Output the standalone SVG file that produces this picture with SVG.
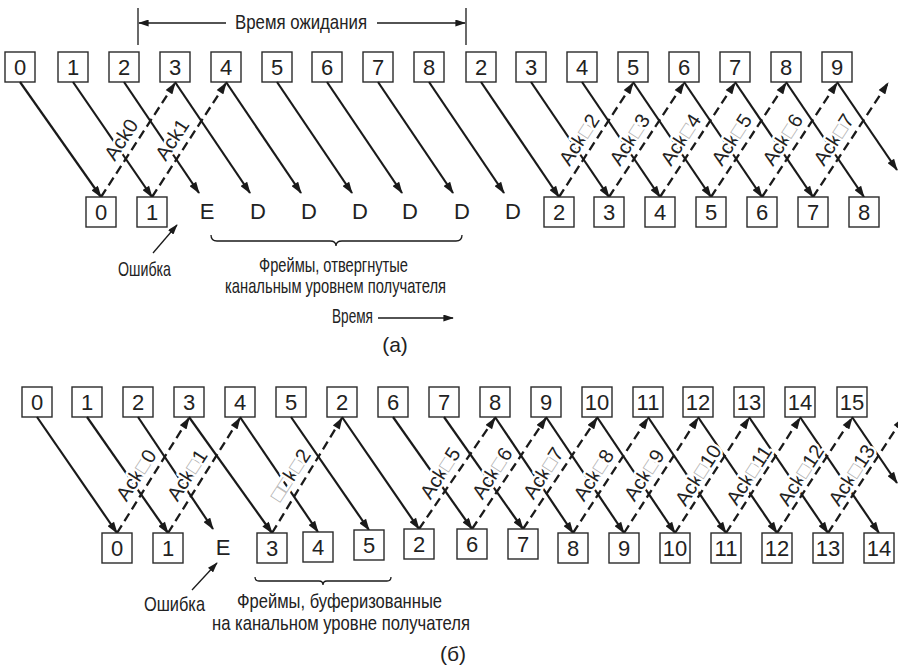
<svg xmlns="http://www.w3.org/2000/svg" width="898" height="667" viewBox="0 0 898 667">
<style>
.bx{fill:#fff;stroke:#2a2a2a;stroke-width:1.4}
.num{font-family:"Liberation Sans",Arial,sans-serif;font-size:22px;fill:#222;text-anchor:middle}
.let{font-family:"Liberation Sans",Arial,sans-serif;font-size:22px;fill:#222;text-anchor:middle}
.ack{font-family:"Liberation Sans",Arial,sans-serif;font-size:20px;fill:#222;text-anchor:middle;stroke:#fff;stroke-width:5;paint-order:stroke;stroke-linejoin:round}
.tf{fill:#b0b0b0}
.ru{font-family:"Liberation Sans Narrow","Liberation Sans",sans-serif;font-size:21px;fill:#222}
.d{stroke:#1a1a1a;stroke-width:2.2;fill:none;marker-end:url(#ah)}
.a{stroke:#1a1a1a;stroke-width:2.3;fill:none;stroke-dasharray:9,5;marker-end:url(#ah)}
.ln{stroke:#1a1a1a;stroke-width:1.3;fill:none}
.lnA{stroke:#1a1a1a;stroke-width:1.3;fill:none;marker-end:url(#ah2)}
</style>
<defs>
<marker id="ah" viewBox="0 0 12 8" refX="11" refY="4" markerWidth="13" markerHeight="8" markerUnits="userSpaceOnUse" orient="auto"><path d="M0,0 L12,4 L0,8 z" fill="#1a1a1a"/></marker>
<marker id="ah2" viewBox="0 0 12 8" refX="11" refY="4" markerWidth="11" markerHeight="7" markerUnits="userSpaceOnUse" orient="auto"><path d="M0,0 L12,4 L0,8 z" fill="#1a1a1a"/></marker>
</defs>

<!-- ===== (a) ===== -->
<g id="a-timeout">
<line class="ln" x1="138" y1="8" x2="138" y2="45"/>
<line class="ln" x1="466" y1="8" x2="466" y2="45"/>
<line class="lnA" x1="226" y1="23" x2="139" y2="23"/>
<line class="lnA" x1="377" y1="23" x2="465" y2="23"/>
<text class="ru" x="235" y="29" textLength="132" lengthAdjust="spacingAndGlyphs">Время ожидания</text>
</g>

<g id="a-senders">
<g id="a-s0"><rect class="bx" x="5" y="52" width="30" height="30"/><text class="num" x="20" y="75">0</text></g>
<g id="a-s1"><rect class="bx" x="58" y="52" width="30" height="30"/><text class="num" x="73" y="75">1</text></g>
<g id="a-s2"><rect class="bx" x="109" y="52" width="30" height="30"/><text class="num" x="124" y="75">2</text></g>
<g id="a-s3"><rect class="bx" x="160" y="52" width="30" height="30"/><text class="num" x="175" y="75">3</text></g>
<g id="a-s4"><rect class="bx" x="211" y="52" width="30" height="30"/><text class="num" x="226" y="75">4</text></g>
<g id="a-s5"><rect class="bx" x="262" y="52" width="30" height="30"/><text class="num" x="277" y="75">5</text></g>
<g id="a-s6"><rect class="bx" x="312" y="52" width="30" height="30"/><text class="num" x="327" y="75">6</text></g>
<g id="a-s7"><rect class="bx" x="363" y="52" width="30" height="30"/><text class="num" x="378" y="75">7</text></g>
<g id="a-s8"><rect class="bx" x="414" y="52" width="30" height="30"/><text class="num" x="429" y="75">8</text></g>
<g id="a-s9"><rect class="bx" x="466" y="52" width="30" height="30"/><text class="num" x="481" y="75">2</text></g>
<g id="a-s10"><rect class="bx" x="516" y="52" width="30" height="30"/><text class="num" x="531" y="75">3</text></g>
<g id="a-s11"><rect class="bx" x="567" y="52" width="30" height="30"/><text class="num" x="582" y="75">4</text></g>
<g id="a-s12"><rect class="bx" x="618" y="52" width="30" height="30"/><text class="num" x="633" y="75">5</text></g>
<g id="a-s13"><rect class="bx" x="669" y="52" width="30" height="30"/><text class="num" x="684" y="75">6</text></g>
<g id="a-s14"><rect class="bx" x="720" y="52" width="30" height="30"/><text class="num" x="735" y="75">7</text></g>
<g id="a-s15"><rect class="bx" x="771" y="52" width="30" height="30"/><text class="num" x="786" y="75">8</text></g>
<g id="a-s16"><rect class="bx" x="822" y="52" width="30" height="30"/><text class="num" x="837" y="75">9</text></g>
</g>

<g id="a-connectors">
<line class="d" x1="20" y1="82" x2="101" y2="197"/>
<line class="d" x1="73" y1="82" x2="152" y2="197"/>
<line class="d" x1="124" y1="82" x2="199" y2="193"/>
<line class="d" x1="175" y1="82" x2="250" y2="193"/>
<line class="d" x1="226" y1="82" x2="301" y2="193"/>
<line class="d" x1="277" y1="82" x2="352" y2="193"/>
<line class="d" x1="327" y1="82" x2="402" y2="193"/>
<line class="d" x1="378" y1="82" x2="453" y2="193"/>
<line class="d" x1="429" y1="82" x2="504" y2="193"/>
<line class="d" x1="481" y1="82" x2="559" y2="197"/>
<line class="d" x1="531" y1="82" x2="609" y2="197"/>
<line class="d" x1="582" y1="82" x2="660" y2="197"/>
<line class="d" x1="633" y1="82" x2="711" y2="197"/>
<line class="d" x1="684" y1="82" x2="762" y2="197"/>
<line class="d" x1="735" y1="82" x2="813" y2="197"/>
<line class="d" x1="786" y1="82" x2="864" y2="197"/>
<line class="d" x1="837" y1="82" x2="897" y2="170"/>
<line class="a" x1="101" y1="197" x2="175" y2="83"/>
<line class="a" x1="152" y1="197" x2="226" y2="83"/>
<line class="a" x1="559" y1="197" x2="633" y2="83"/>
<line class="a" x1="609" y1="197" x2="684" y2="83"/>
<line class="a" x1="660" y1="197" x2="735" y2="83"/>
<line class="a" x1="711" y1="197" x2="786" y2="83"/>
<line class="a" x1="762" y1="197" x2="837" y2="83"/>
<line class="a" x1="813" y1="197" x2="888" y2="83"/>
<line class="lnA" x1="153" y1="253" x2="177" y2="225"/>
<line class="lnA" x1="378" y1="318" x2="453" y2="318"/>
</g>

<g id="a-acklabels">
<text class="ack" transform="translate(121,139.5) rotate(-57)" y="7">Ack0</text>
<text class="ack" transform="translate(172,139.5) rotate(-57)" y="7">Ack1</text>
<text class="ack" transform="translate(579,139.5) rotate(-57)" y="7">Ack<tspan class="tf">□</tspan>2</text>
<text class="ack" transform="translate(629.5,139.5) rotate(-57)" y="7">Ack<tspan class="tf">□</tspan>3</text>
<text class="ack" transform="translate(680.5,139.5) rotate(-57)" y="7">Ack<tspan class="tf">□</tspan>4</text>
<text class="ack" transform="translate(731.5,139.5) rotate(-57)" y="7">Ack<tspan class="tf">□</tspan>5</text>
<text class="ack" transform="translate(782.5,139.5) rotate(-57)" y="7">Ack<tspan class="tf">□</tspan>6</text>
<text class="ack" transform="translate(833.5,139.5) rotate(-57)" y="7">Ack<tspan class="tf">□</tspan>7</text>
</g>

<g id="a-receivers">
<g id="a-r0"><rect class="bx" x="86" y="197" width="30" height="30"/><text class="num" x="101" y="220">0</text></g>
<g id="a-r1"><rect class="bx" x="137" y="197" width="30" height="30"/><text class="num" x="152" y="220">1</text></g>
<g id="a-r2"><text class="let" x="207" y="219">E</text></g>
<g id="a-r3"><text class="let" x="258" y="219">D</text></g>
<g id="a-r4"><text class="let" x="309" y="219">D</text></g>
<g id="a-r5"><text class="let" x="360" y="219">D</text></g>
<g id="a-r6"><text class="let" x="410" y="219">D</text></g>
<g id="a-r7"><text class="let" x="462" y="219">D</text></g>
<g id="a-r8"><text class="let" x="513" y="219">D</text></g>
<g id="a-r9"><rect class="bx" x="544" y="197" width="30" height="30"/><text class="num" x="559" y="220">2</text></g>
<g id="a-r10"><rect class="bx" x="594" y="197" width="30" height="30"/><text class="num" x="609" y="220">3</text></g>
<g id="a-r11"><rect class="bx" x="645" y="197" width="30" height="30"/><text class="num" x="660" y="220">4</text></g>
<g id="a-r12"><rect class="bx" x="696" y="197" width="30" height="30"/><text class="num" x="711" y="220">5</text></g>
<g id="a-r13"><rect class="bx" x="747" y="197" width="30" height="30"/><text class="num" x="762" y="220">6</text></g>
<g id="a-r14"><rect class="bx" x="798" y="197" width="30" height="30"/><text class="num" x="813" y="220">7</text></g>
<g id="a-r15"><rect class="bx" x="849" y="197" width="30" height="30"/><text class="num" x="864" y="220">8</text></g>
</g>

<g id="a-notes">
<text class="ru" x="118" y="276" textLength="53" lengthAdjust="spacingAndGlyphs">Ошибка</text>
<path class="ln" d="M211,235 Q211,241 217,241 L330,241 Q336,241 336,246 Q336,241 342,241 L456,241 Q462,241 462,235"/>
<text class="ru" x="259" y="272" textLength="149" lengthAdjust="spacingAndGlyphs">Фреймы, отвергнутые</text>
<text class="ru" x="225" y="293" textLength="221" lengthAdjust="spacingAndGlyphs">канальным уровнем получателя</text>
<text class="ru" x="332" y="323" textLength="41" lengthAdjust="spacingAndGlyphs">Время</text>
<text class="ru" x="395" y="352" text-anchor="middle">(а)</text>
</g>

<!-- ===== (b) ===== -->
<g id="b-senders">
<g id="b-s0"><rect class="bx" x="22" y="387" width="30" height="30"/><text class="num" x="37" y="410">0</text></g>
<g id="b-s1"><rect class="bx" x="72" y="387" width="30" height="30"/><text class="num" x="87" y="410">1</text></g>
<g id="b-s2"><rect class="bx" x="123" y="387" width="30" height="30"/><text class="num" x="138" y="410">2</text></g>
<g id="b-s3"><rect class="bx" x="174" y="387" width="30" height="30"/><text class="num" x="189" y="410">3</text></g>
<g id="b-s4"><rect class="bx" x="225" y="387" width="30" height="30"/><text class="num" x="240" y="410">4</text></g>
<g id="b-s5"><rect class="bx" x="276" y="387" width="30" height="30"/><text class="num" x="291" y="410">5</text></g>
<g id="b-s6"><rect class="bx" x="327" y="387" width="30" height="30"/><text class="num" x="342" y="410">2</text></g>
<g id="b-s7"><rect class="bx" x="378" y="387" width="30" height="30"/><text class="num" x="393" y="410">6</text></g>
<g id="b-s8"><rect class="bx" x="429" y="387" width="30" height="30"/><text class="num" x="444" y="410">7</text></g>
<g id="b-s9"><rect class="bx" x="480" y="387" width="30" height="30"/><text class="num" x="495" y="410">8</text></g>
<g id="b-s10"><rect class="bx" x="531" y="387" width="30" height="30"/><text class="num" x="546" y="410">9</text></g>
<g id="b-s11"><rect class="bx" x="582" y="387" width="30" height="30"/><text class="num" x="597" y="410">10</text></g>
<g id="b-s12"><rect class="bx" x="633" y="387" width="30" height="30"/><text class="num" x="648" y="410">11</text></g>
<g id="b-s13"><rect class="bx" x="683" y="387" width="30" height="30"/><text class="num" x="698" y="410">12</text></g>
<g id="b-s14"><rect class="bx" x="734" y="387" width="30" height="30"/><text class="num" x="749" y="410">13</text></g>
<g id="b-s15"><rect class="bx" x="785" y="387" width="30" height="30"/><text class="num" x="800" y="410">14</text></g>
<g id="b-s16"><rect class="bx" x="837" y="387" width="30" height="30"/><text class="num" x="852" y="410">15</text></g>
</g>

<g id="b-connectors">
<line class="d" x1="37" y1="417" x2="117" y2="533"/>
<line class="d" x1="87" y1="417" x2="168" y2="533"/>
<line class="d" x1="138" y1="417" x2="213" y2="529"/>
<line class="d" x1="189" y1="417" x2="272" y2="533"/>
<line class="d" x1="240" y1="417" x2="318" y2="532"/>
<line class="d" x1="291" y1="417" x2="369" y2="530"/>
<line class="d" x1="342" y1="417" x2="419" y2="529"/>
<line class="d" x1="393" y1="417" x2="472" y2="529"/>
<line class="d" x1="444" y1="417" x2="523" y2="529"/>
<line class="d" x1="495" y1="417" x2="573" y2="533"/>
<line class="d" x1="546" y1="417" x2="624" y2="533"/>
<line class="d" x1="597" y1="417" x2="675" y2="533"/>
<line class="d" x1="648" y1="417" x2="726" y2="533"/>
<line class="d" x1="698" y1="417" x2="777" y2="533"/>
<line class="d" x1="749" y1="417" x2="828" y2="533"/>
<line class="d" x1="800" y1="417" x2="879" y2="533"/>
<line class="d" x1="852" y1="417" x2="897" y2="483"/>
<line class="a" x1="117" y1="533" x2="189" y2="418"/>
<line class="a" x1="168" y1="533" x2="240" y2="418"/>
<line class="a" x1="272" y1="533" x2="342" y2="418"/>
<line class="a" x1="419" y1="529" x2="495" y2="418"/>
<line class="a" x1="472" y1="529" x2="546" y2="418"/>
<line class="a" x1="523" y1="529" x2="597" y2="418"/>
<line class="a" x1="573" y1="533" x2="648" y2="418"/>
<line class="a" x1="624" y1="533" x2="698" y2="418"/>
<line class="a" x1="675" y1="533" x2="749" y2="418"/>
<line class="a" x1="726" y1="533" x2="800" y2="418"/>
<line class="a" x1="777" y1="533" x2="852" y2="418"/>
<line class="a" x1="828" y1="533" x2="903" y2="418"/>
<line class="lnA" x1="192" y1="590" x2="217" y2="563"/>
</g>

<g id="b-acklabels">
<text class="ack" transform="translate(136,475) rotate(-57)" y="7">Ack<tspan class="tf">□</tspan>0</text>
<text class="ack" transform="translate(187,475) rotate(-57)" y="7">Ack<tspan class="tf">□</tspan>1</text>
<text class="ack" transform="translate(290,475) rotate(-57)" y="7"><tspan class="tf">□□</tspan>k<tspan class="tf">□</tspan>2</text>
<text class="ack" transform="translate(440,473) rotate(-57)" y="7">Ack<tspan class="tf">□</tspan>5</text>
<text class="ack" transform="translate(492,473) rotate(-57)" y="7">Ack<tspan class="tf">□</tspan>6</text>
<text class="ack" transform="translate(543,473) rotate(-57)" y="7">Ack<tspan class="tf">□</tspan>7</text>
<text class="ack" transform="translate(593.5,475) rotate(-57)" y="7">Ack<tspan class="tf">□</tspan>8</text>
<text class="ack" transform="translate(644,475) rotate(-57)" y="7">Ack<tspan class="tf">□</tspan>9</text>
<text class="ack" transform="translate(698,475) rotate(-57)" y="7">Ack<tspan class="tf">□</tspan>10</text>
<text class="ack" transform="translate(749,475) rotate(-57)" y="7">Ack<tspan class="tf">□</tspan>11</text>
<text class="ack" transform="translate(800.5,475) rotate(-57)" y="7">Ack<tspan class="tf">□</tspan>12</text>
<text class="ack" transform="translate(851.5,475) rotate(-57)" y="7">Ack<tspan class="tf">□</tspan>13</text>
</g>

<g id="b-receivers">
<g id="b-r0"><rect class="bx" x="102" y="533" width="30" height="30"/><text class="num" x="117" y="556">0</text></g>
<g id="b-r1"><rect class="bx" x="153" y="533" width="30" height="30"/><text class="num" x="168" y="556">1</text></g>
<g id="b-r2"><text class="let" x="223" y="555">E</text></g>
<g id="b-r3"><rect class="bx" x="257" y="533" width="30" height="30"/><text class="num" x="272" y="556">3</text></g>
<g id="b-r4"><rect class="bx" x="303" y="532" width="30" height="30"/><text class="num" x="318" y="555">4</text></g>
<g id="b-r5"><rect class="bx" x="354" y="530" width="30" height="30"/><text class="num" x="369" y="553">5</text></g>
<g id="b-r6"><rect class="bx" x="404" y="529" width="30" height="30"/><text class="num" x="419" y="552">2</text></g>
<g id="b-r7"><rect class="bx" x="457" y="529" width="30" height="30"/><text class="num" x="472" y="552">6</text></g>
<g id="b-r8"><rect class="bx" x="508" y="529" width="30" height="30"/><text class="num" x="523" y="552">7</text></g>
<g id="b-r9"><rect class="bx" x="558" y="533" width="30" height="30"/><text class="num" x="573" y="556">8</text></g>
<g id="b-r10"><rect class="bx" x="609" y="533" width="30" height="30"/><text class="num" x="624" y="556">9</text></g>
<g id="b-r11"><rect class="bx" x="660" y="533" width="30" height="30"/><text class="num" x="675" y="556">10</text></g>
<g id="b-r12"><rect class="bx" x="711" y="533" width="30" height="30"/><text class="num" x="726" y="556">11</text></g>
<g id="b-r13"><rect class="bx" x="762" y="533" width="30" height="30"/><text class="num" x="777" y="556">12</text></g>
<g id="b-r14"><rect class="bx" x="813" y="533" width="30" height="30"/><text class="num" x="828" y="556">13</text></g>
<g id="b-r15"><rect class="bx" x="864" y="533" width="30" height="30"/><text class="num" x="879" y="556">14</text></g>
</g>

<g id="b-notes">
<text class="ru" x="144" y="611" textLength="61" lengthAdjust="spacingAndGlyphs">Ошибка</text>
<path class="ln" d="M255,577 Q255,581 259,581 L319,581 Q323,581 323,585 Q323,581 327,581 L387,581 Q391,581 391,577"/>
<text class="ru" x="237" y="608" textLength="205" lengthAdjust="spacingAndGlyphs">Фреймы, буферизованные</text>
<text class="ru" x="212" y="630" textLength="258" lengthAdjust="spacingAndGlyphs">на канальном уровне получателя</text>
<text class="ru" x="453" y="661" text-anchor="middle">(б)</text>
</g>
</svg>
